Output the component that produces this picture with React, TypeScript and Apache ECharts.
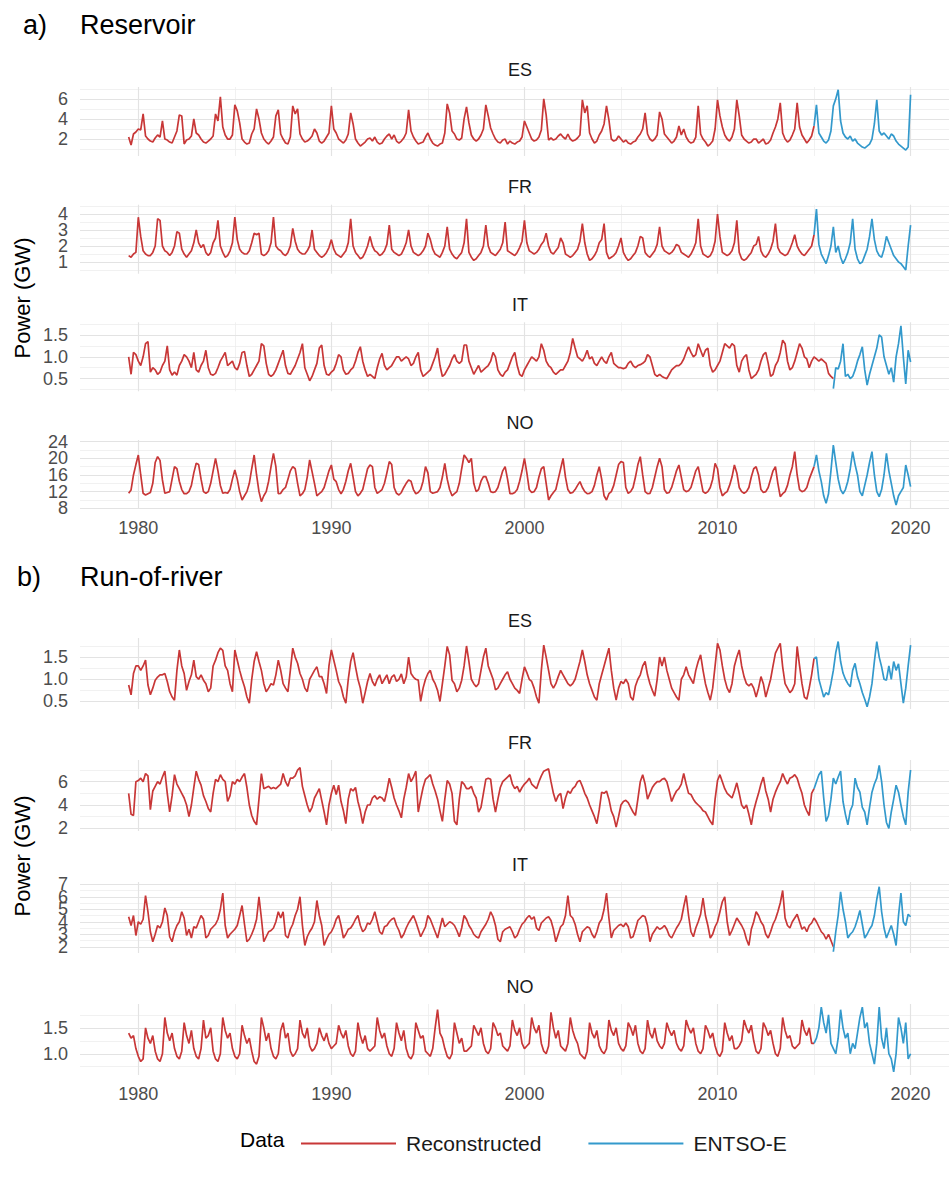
import React, { useEffect, useRef } from "react";
import * as echarts from "echarts";

// ---------- data (values every 1/8 year) ----------
const STEP = 0.125;
const REC_START = 1979.5;
const X_LABELS = [1980, 1990, 2000, 2010, 2020];
const X_MINOR = [1985, 1995, 2005, 2015];

// a) Reservoir — ES
const resES_rec = [
  2.2, 1.4, 2.5, 2.7,
  3.0, 2.9, 4.5, 2.3, 2.0, 1.8, 1.7, 2.1,
  2.4, 2.2, 3.8, 2.0, 1.9, 1.7, 1.6, 2.2,
  2.8, 4.4, 4.3, 1.5, 1.9, 2.0, 2.3, 4.0,
  2.6, 2.4, 2.0, 1.7, 1.6, 1.8, 2.0, 2.3,
  4.5, 3.8, 6.2, 3.2, 2.4, 2.0, 2.0, 2.4,
  5.4, 4.8, 3.6, 2.0, 1.7, 1.5, 1.6, 2.5,
  3.0, 5.0, 4.0, 2.6, 2.0, 1.7, 1.5, 1.8,
  2.2, 4.3, 4.9, 2.5, 2.0, 1.6, 1.5, 2.2,
  5.3, 4.5, 5.0, 2.5, 2.0, 1.7, 1.8, 2.0,
  2.3, 3.0, 2.6, 1.8, 1.6, 1.8, 2.2, 2.6,
  5.3, 3.0, 2.6, 2.0, 1.8, 1.6, 1.9, 2.5,
  4.6, 3.5, 2.0, 1.6, 1.3, 1.5, 1.7, 2.0,
  2.1, 1.8, 2.2, 1.7, 1.5, 1.6, 2.0, 2.3,
  2.5, 2.0, 2.4, 1.8, 1.6, 1.8, 2.1, 2.6,
  4.9, 2.8, 2.2, 1.8, 1.5, 1.6, 1.7, 2.2,
  2.6, 2.0, 1.6, 1.4, 1.3, 1.5, 1.6, 2.6,
  5.5, 4.6, 2.8, 2.5, 2.0, 1.9, 2.1, 4.0,
  5.2, 3.6, 2.4, 2.0, 1.8, 2.0, 2.4, 3.0,
  5.4, 4.3, 3.1, 2.5, 2.0, 1.7, 1.6, 1.9,
  2.0, 1.5, 1.8, 1.6, 1.5, 1.7, 1.8, 2.2,
  3.8, 3.2, 2.6, 2.0, 1.8, 1.9, 2.2, 2.9,
  6.0, 4.4, 1.9, 2.1, 1.9, 2.0, 2.3, 2.5,
  2.2, 2.0, 2.5, 2.0, 1.8, 1.9, 2.1, 2.4,
  5.9, 4.6, 5.3, 2.6, 2.0, 1.6, 1.8, 2.4,
  2.8, 3.5, 5.3, 3.9, 2.0, 1.8, 1.9, 2.3,
  2.0, 1.7, 1.9, 1.6, 1.5, 1.7, 1.8, 2.2,
  2.5, 3.0, 4.6, 2.5, 2.0, 1.8, 2.0, 2.4,
  4.7, 4.0, 2.5, 2.2, 1.9, 1.6, 1.8, 2.2,
  3.3, 2.4, 3.0, 2.2, 1.8, 1.6, 1.7, 2.2,
  5.3, 2.5, 2.0, 1.7, 1.3, 1.5, 1.8, 3.0,
  5.9, 4.3, 3.2, 2.4, 2.0, 1.8, 2.2, 3.0,
  5.9, 4.3, 2.4, 2.0, 1.8, 1.6, 1.7, 2.0,
  2.0, 1.6, 1.8, 2.0, 1.5, 1.6, 1.9, 2.6,
  3.2, 4.0, 5.6, 2.6, 2.0, 1.7, 1.9, 2.4,
  3.0, 5.6, 3.2, 2.4, 2.0, 1.6, 1.9, 2.3,
  3.3,
];
const resES_ent = [
  3.3, 5.4, 2.6, 2.2, 1.8, 1.6, 1.9, 2.8,
  5.3, 6.0, 6.9, 3.8, 2.6, 2.2, 2.0, 2.3,
  1.8, 2.0, 1.6, 1.4, 1.2, 1.1, 1.3, 1.5,
  2.0, 3.5, 5.9, 2.8, 2.4, 2.6, 2.3, 2.0,
  2.5, 2.3, 1.8, 1.5, 1.3, 1.1, 0.9, 1.2,
  6.4,
];

// a) Reservoir — FR
const resFR_rec = [
  1.4, 1.3, 1.5, 1.6,
  3.8, 2.6, 1.7, 1.5, 1.4, 1.4, 1.6, 2.0,
  3.7, 3.6, 2.0, 1.7, 1.6, 1.4, 1.6, 2.0,
  2.9, 2.8, 1.8, 1.5, 1.3, 1.5, 1.7, 2.2,
  3.0, 2.2, 1.9, 2.1, 1.6, 1.4, 1.6, 2.2,
  2.5, 3.6, 2.0, 1.6, 1.3, 1.4, 1.7, 2.2,
  3.8, 2.4, 1.8, 1.6, 1.5, 1.5, 1.7, 2.2,
  2.8, 2.7, 2.8, 1.5, 1.4, 1.5, 1.7, 2.2,
  3.8, 2.0, 1.8, 1.7, 1.5, 1.4, 1.6, 2.0,
  3.1, 2.3, 1.8, 1.6, 1.5, 1.5, 1.7, 2.0,
  3.0, 1.8, 1.6, 1.4, 1.3, 1.4, 1.6, 1.9,
  2.4, 1.8, 1.5, 1.4, 1.3, 1.5, 1.7, 2.2,
  3.7, 2.0, 1.6, 1.4, 1.2, 1.3, 1.6, 2.0,
  2.6, 2.0, 1.7, 1.6, 1.4, 1.5, 1.7, 2.1,
  3.3, 1.8, 1.6, 1.5, 1.4, 1.5, 1.8, 2.2,
  3.0, 2.0, 1.6, 1.5, 1.4, 1.5, 1.7, 2.0,
  2.8, 2.4, 1.8, 1.5, 1.4, 1.3, 1.6, 2.0,
  3.2, 1.8, 1.5, 1.3, 1.2, 1.4, 1.6, 2.2,
  3.7, 1.6, 1.3, 1.1, 1.2, 1.4, 1.6, 2.0,
  3.3, 2.0, 1.6, 1.5, 1.4, 1.6, 1.8, 2.2,
  3.5, 1.7, 1.6, 1.5, 1.4, 1.6, 1.9, 2.3,
  3.6, 2.2, 1.7, 1.6, 1.5, 1.6, 1.8, 2.1,
  2.3, 2.8, 2.0, 1.6, 1.5, 1.7, 1.9, 2.5,
  2.2, 1.5, 1.4, 1.3, 1.4, 1.6, 1.8, 2.3,
  3.4, 2.2, 1.5, 1.1, 1.2, 1.4, 1.7, 2.2,
  2.4, 3.4, 1.6, 1.2, 1.3, 1.4, 1.6, 2.0,
  2.5, 1.6, 1.3, 1.1, 1.2, 1.4, 1.6, 2.0,
  2.6, 2.5, 1.6, 1.4, 1.3, 1.5, 1.7, 2.1,
  3.2, 2.0, 1.7, 1.6, 1.5, 1.6, 1.8, 2.1,
  2.0, 1.6, 1.5, 1.4, 1.3, 1.5, 1.8, 2.2,
  3.7, 2.0, 1.5, 1.4, 1.3, 1.4, 1.7, 2.3,
  4.0, 2.6, 1.6, 1.5, 1.4, 1.5, 1.7, 2.2,
  3.6, 1.6, 1.2, 1.1, 1.2, 1.4, 1.6, 2.0,
  2.1, 2.6, 1.7, 1.4, 1.3, 1.5, 1.8, 2.3,
  3.4, 1.9, 1.6, 1.5, 1.4, 1.5, 1.8, 2.2,
  2.7, 2.0, 1.7, 1.5, 1.4, 1.6, 1.8, 2.0,
  2.7,
];
const resFR_ent = [
  2.7, 4.3, 2.1, 1.5, 1.2, 0.9, 1.4, 2.0,
  3.2, 1.6, 2.0, 1.3, 0.9, 1.2, 1.6, 2.2,
  3.7, 1.8, 1.2, 0.9, 1.0, 1.4, 1.8, 2.6,
  3.7, 2.4, 1.7, 1.4, 1.3, 1.8, 2.6, 2.2,
  1.8, 1.4, 1.2, 1.0, 0.9, 0.7, 0.5, 2.0,
  3.3,
];

// a) Reservoir — IT (reconstructed until 2016)
const resIT_rec = [
  1.0, 0.6, 1.1, 1.05,
  0.9, 0.8, 1.0, 1.3, 1.35, 0.65, 0.75, 0.7,
  0.6, 0.65, 0.8, 0.9, 1.25, 0.7, 0.58, 0.65,
  0.58, 0.8, 0.9, 1.05, 1.0, 0.9, 0.75, 1.1,
  0.7, 0.65, 0.8, 0.9, 1.15, 0.75, 0.6, 0.58,
  0.62, 0.75, 0.9, 1.0, 1.1, 0.8, 0.85, 0.9,
  0.75, 0.7, 0.85, 1.1, 1.12, 0.8, 0.55, 0.6,
  0.7, 0.8, 0.9, 1.3, 1.25, 0.85, 0.6, 0.55,
  0.6, 0.7, 0.85, 1.0, 1.15, 0.8, 0.62, 0.6,
  0.7, 0.8, 0.95, 1.1, 1.3, 0.75, 0.6, 0.45,
  0.55, 0.7, 0.85, 1.2, 1.27, 0.8, 0.6, 0.58,
  0.65, 0.7, 0.85, 1.05, 1.0, 0.7, 0.6, 0.62,
  0.7, 0.75, 0.9, 1.1, 1.23, 0.9, 0.7, 0.55,
  0.6, 0.55, 0.5, 0.75, 0.95, 1.08, 0.8, 0.7,
  0.75, 0.8, 0.9, 1.0, 1.0, 0.9, 0.95, 1.0,
  0.95, 0.8, 0.85, 1.0, 1.1, 0.7, 0.55, 0.6,
  0.65, 0.7, 0.85, 1.0, 1.2, 0.8, 0.55, 0.6,
  0.7, 0.8, 0.95, 1.05, 0.9, 0.85, 0.9, 1.27,
  1.27, 0.9, 0.75, 0.6, 0.7, 0.8, 0.65, 0.7,
  0.75, 0.8, 0.9, 1.1, 1.0, 0.7, 0.6, 0.55,
  0.65, 0.7, 0.85, 1.0, 1.1, 0.8, 0.6, 0.55,
  0.7, 0.8, 0.9, 1.0, 0.95, 0.9, 1.0, 1.3,
  1.15, 0.9, 0.8, 0.75, 0.65, 0.6, 0.65, 0.7,
  0.7, 0.8, 0.9, 1.1, 1.42, 1.2, 1.0, 0.95,
  0.9, 1.0, 1.15, 0.95, 1.0, 0.85, 0.8, 0.9,
  1.0, 0.9, 0.85, 1.0, 1.1, 0.85, 0.8, 0.75,
  0.75, 0.73, 0.75, 0.85, 0.9, 0.8, 0.75, 0.8,
  0.82, 0.85, 0.9, 1.05, 1.0, 0.8, 0.6, 0.55,
  0.6, 0.55, 0.52, 0.5, 0.6, 0.7, 0.75, 0.8,
  0.8, 0.85, 0.95, 1.1, 1.23, 1.1, 1.0, 1.05,
  1.3, 1.15, 1.0, 1.15, 1.2, 0.8, 0.65, 0.7,
  0.8, 0.9, 1.1, 1.3, 1.25, 1.2, 1.3, 1.25,
  0.8, 0.65, 0.9, 1.0, 1.05, 0.7, 0.5, 0.55,
  0.6, 0.7, 0.9, 1.05, 1.1, 0.85, 0.55, 0.6,
  0.8, 0.9, 1.1, 1.38, 1.3, 0.9, 0.7, 0.75,
  0.9, 1.1, 1.3, 1.2, 1.0, 0.95, 0.75, 0.9,
  1.0, 0.95, 0.9, 0.95, 0.9, 0.85, 0.62, 0.55,
  0.5,
];
const resIT_ent = [
  0.27, 0.75, 0.72, 0.9, 1.3, 0.55, 0.6, 0.5,
  0.55, 0.7, 0.9, 1.05, 1.23, 0.7, 0.35, 0.6,
  0.8, 1.0, 1.2, 1.5, 1.45, 1.0, 0.8, 0.6,
  0.75, 0.42, 1.0, 1.3, 1.71, 1.0, 0.38, 1.15,
  0.88,
];

// a) Reservoir — NO
const resNO_rec = [
  11.6, 12.4, 16.0, 18.5,
  20.8, 16.0, 11.6, 11.2, 11.5, 11.8, 14.0, 19.0,
  20.4, 19.5, 14.8, 11.6, 11.8, 12.0, 15.0, 18.0,
  17.5, 14.5, 12.5, 11.5, 11.5, 12.0, 13.5, 16.5,
  18.8, 18.5, 15.0, 12.0, 11.6, 12.0, 14.0, 17.0,
  20.0, 17.0, 13.5, 11.6, 11.8, 11.6, 12.5, 15.0,
  17.2, 15.0, 12.0, 10.0, 11.0, 12.0, 14.0, 17.5,
  20.8, 16.0, 12.0, 9.6, 11.0, 12.0, 14.5, 18.0,
  21.2, 18.0, 11.5, 11.6, 12.5, 13.0, 15.0, 17.0,
  18.0, 17.5, 14.0, 11.0, 11.5, 12.5, 15.5, 19.6,
  16.8, 14.0, 11.0, 11.5, 12.0, 13.0, 15.0, 17.0,
  18.4, 15.0, 14.4, 12.5, 11.5, 12.5, 14.5, 17.0,
  18.8, 15.5, 12.0, 11.0, 11.6, 12.5, 15.0, 17.5,
  18.4, 18.0, 13.0, 11.6, 12.0, 12.5, 14.0, 16.5,
  19.2, 18.5, 13.0, 11.6, 11.2, 11.8, 13.0, 14.0,
  14.8, 14.5, 12.5, 11.5, 11.8, 12.5, 14.5, 18.0,
  16.5, 12.0, 11.6, 11.8, 12.0, 13.0, 15.5, 18.8,
  15.0, 12.5, 11.0, 11.5, 12.0, 14.0, 17.5, 20.8,
  20.0, 19.0, 20.0, 14.0, 12.0, 12.5, 14.5, 15.6,
  15.6, 14.0, 12.0, 11.8, 12.0, 13.0, 15.0, 17.0,
  18.0, 15.0, 11.5, 11.5, 11.8, 12.5, 14.5, 17.0,
  20.0, 16.5, 12.5, 11.8, 12.0, 13.0, 15.5, 17.5,
  18.0, 14.0, 10.0, 11.0, 11.8, 12.5, 15.0, 17.5,
  20.0, 15.5, 12.5, 11.6, 11.8, 12.5, 13.5, 14.4,
  13.0, 12.0, 11.5, 11.6, 12.0, 13.5, 16.0, 18.0,
  15.0, 11.0, 10.0, 11.5, 12.0, 13.5, 16.0, 18.5,
  19.2, 19.0, 13.0, 11.6, 12.0, 13.0, 15.5, 18.5,
  20.4, 16.0, 12.0, 11.5, 11.6, 13.0, 15.5, 18.0,
  20.0, 18.0, 12.5, 11.6, 11.8, 13.0, 15.0, 17.0,
  18.4, 15.5, 12.5, 12.0, 12.2, 13.0, 15.0, 17.0,
  18.0, 15.0, 12.0, 11.6, 12.0, 13.0, 15.0, 18.8,
  17.5, 13.0, 11.0, 11.6, 12.0, 13.5, 15.5, 18.4,
  16.5, 13.0, 12.0, 11.6, 12.0, 13.0, 15.5, 17.5,
  18.0, 16.0, 12.5, 11.8, 12.0, 13.0, 15.0, 17.0,
  18.0, 14.0, 10.8, 11.5, 12.0, 13.5, 16.0, 18.0,
  21.6, 16.0, 12.5, 12.0, 12.2, 13.0, 15.0, 16.5,
  18.0,
];
const resNO_ent = [
  18.0, 20.8, 17.0, 14.4, 11.0, 9.2, 11.5, 17.0,
  23.2, 19.0, 15.0, 12.5, 11.5, 12.5, 14.5, 17.5,
  21.6, 18.5, 16.0, 12.0, 11.0, 13.5, 16.0, 19.0,
  21.6, 16.0, 12.0, 10.8, 12.5, 16.0, 21.2, 17.0,
  14.0, 11.0, 8.8, 11.0, 12.0, 13.0, 18.4, 16.0,
  13.2,
];

// b) Run-of-river — ES
const rorES_rec = [
  0.87, 0.65, 1.13, 1.3,
  1.3, 1.2, 1.3, 1.43, 0.87, 0.65, 0.8, 0.98,
  1.05, 1.1, 1.1, 1.13, 0.95, 0.72, 0.6, 0.53,
  1.2, 1.66, 1.3, 1.13, 0.75, 0.95, 1.1, 1.43,
  1.06, 1.0, 1.1, 0.98, 0.9, 0.72, 0.8, 1.3,
  1.43, 1.6, 1.7, 1.65, 1.3, 1.2, 0.9, 0.72,
  1.66, 1.43, 1.2, 1.0, 0.83, 0.6, 0.46, 1.0,
  1.4, 1.62, 1.4, 1.2, 0.9, 0.72, 0.8, 0.9,
  0.87, 1.1, 1.43, 1.2, 0.9, 0.8, 0.72, 1.2,
  1.7, 1.5, 1.36, 1.13, 1.0, 0.8, 0.72, 1.0,
  1.1, 1.2, 1.28, 1.06, 1.06, 0.9, 0.68, 1.3,
  1.66, 1.43, 1.2, 0.95, 0.83, 0.6, 0.46, 1.0,
  1.4, 1.6, 1.28, 1.0, 0.8, 0.46, 0.7, 0.95,
  1.13, 0.95, 0.85, 1.0, 1.1, 0.9, 1.0, 1.1,
  0.9, 1.05, 1.1, 0.95, 1.0, 1.12, 0.9, 1.05,
  1.5, 1.13, 1.05, 1.0, 0.98, 0.5, 0.8, 1.0,
  1.13, 1.2, 1.0, 0.9, 0.75, 0.5, 0.9, 1.3,
  1.74, 1.55, 0.98, 0.9, 0.72, 0.8, 0.98, 1.3,
  1.75, 1.4, 1.0, 0.9, 0.83, 0.9, 1.2, 1.5,
  1.7, 1.3, 1.15, 1.0, 0.76, 0.8, 0.9, 1.0,
  1.1, 1.17, 1.0, 0.9, 0.8, 0.75, 0.68, 1.0,
  1.28, 1.15, 1.0, 0.95, 0.8, 0.6, 0.46, 1.2,
  1.77, 1.5, 1.2, 0.9, 0.8, 0.9, 1.06, 1.2,
  1.1, 1.0, 0.9, 0.85, 0.9, 1.0, 1.2, 1.4,
  1.66, 1.4, 1.1, 0.9, 0.75, 0.6, 0.53, 0.9,
  1.1, 1.3, 1.5, 1.7, 1.2, 0.8, 0.53, 0.8,
  0.95, 0.9, 1.0, 0.9, 0.6, 0.53, 0.85, 1.0,
  1.1, 1.3, 1.4, 1.1, 0.9, 0.75, 0.62, 1.0,
  1.5, 1.3, 1.5, 1.2, 1.0, 0.8, 0.7, 0.6,
  0.53, 1.0, 1.1, 1.28, 1.1, 1.0, 0.9, 1.2,
  1.4, 1.55, 1.2, 0.9, 0.7, 0.53, 0.8, 1.3,
  1.81, 1.66, 1.3, 1.0, 0.8, 0.7, 0.9, 1.3,
  1.5, 1.66, 1.3, 1.06, 0.9, 0.85, 0.9, 0.8,
  0.6, 0.8, 1.06, 0.9, 0.6, 0.8, 1.0, 1.3,
  1.59, 1.7, 1.81, 1.28, 0.9, 0.8, 0.7, 0.76,
  0.9, 1.74, 1.3, 0.9, 0.6, 0.55, 0.8, 1.1,
  1.47,
];
const rorES_ent = [
  1.47, 1.5, 1.0, 0.8, 0.6, 0.7, 0.65, 0.9,
  1.2, 1.6, 1.85, 1.4, 1.14, 1.0, 0.9, 0.83,
  1.2, 1.36, 1.06, 0.9, 0.7, 0.55, 0.38, 0.6,
  0.9, 1.4, 1.85, 1.5, 1.28, 1.0, 0.98, 1.3,
  1.0, 1.4, 1.2, 1.35, 0.9, 0.46, 0.8, 1.3,
  1.77,
];

// b) Run-of-river — FR
const rorFR_rec = [
  5.0, 3.2, 3.1, 6.0,
  6.1, 6.3, 6.0, 6.7, 6.5, 3.6, 5.2, 5.6,
  6.0, 5.8, 6.4, 6.9, 5.0, 3.4, 4.8, 6.6,
  5.8, 5.4, 5.0, 4.6, 4.0, 3.0, 4.0, 5.5,
  6.9, 6.2, 5.7, 4.8, 4.3, 3.7, 3.4, 5.0,
  6.2, 6.0, 6.6, 6.2, 6.0, 4.3, 4.8, 6.0,
  5.8, 6.2, 6.0, 6.4, 6.7, 5.5, 4.0, 3.1,
  2.6, 2.3, 4.5, 6.7, 5.4, 5.5, 5.6, 5.4,
  5.5, 5.4, 5.6, 5.8, 6.7, 6.0, 5.6, 6.3,
  6.3, 6.5, 7.0, 7.2, 5.6, 4.8, 4.0, 3.4,
  3.8, 4.6, 5.0, 5.4, 4.4, 3.4, 2.3, 4.0,
  5.0, 5.7, 4.9, 5.7, 4.3, 3.5, 2.4, 4.5,
  5.4, 5.2, 5.5, 4.3, 3.5, 2.4, 3.4, 4.0,
  4.0, 4.6, 4.8, 4.5, 4.7, 4.6, 4.3, 5.2,
  6.3, 5.5, 4.6, 4.0, 3.5, 2.9, 4.5, 5.5,
  6.7, 6.0, 6.4, 6.9, 3.4, 4.5, 5.5, 6.2,
  6.4, 6.6, 5.8, 5.2, 4.5, 3.5, 2.6, 4.5,
  6.1, 5.8, 5.0, 2.6, 2.3, 4.5, 6.0, 5.8,
  5.4, 5.4, 5.6, 5.0, 4.6, 3.4, 3.8, 5.0,
  6.2, 6.3, 6.2, 4.5, 3.4, 4.5, 5.5, 6.0,
  6.2, 6.4, 6.6, 5.8, 5.4, 5.6, 5.1, 5.5,
  5.8, 6.0, 6.3, 5.8, 5.6, 5.4, 6.0, 6.5,
  6.9, 7.0, 7.1, 6.0, 5.0, 4.3, 4.8, 5.0,
  3.7, 4.6, 5.2, 5.0, 5.4, 5.6, 6.0, 6.1,
  5.6, 5.0, 4.6, 4.0, 3.5, 3.0, 2.4, 3.6,
  5.1, 5.0, 5.2, 4.5, 3.5, 3.0, 2.1, 3.0,
  4.0, 4.3, 4.4, 4.2, 3.8, 3.4, 3.1, 4.5,
  6.0, 6.6, 5.8, 4.5, 5.0, 5.5, 5.8, 6.0,
  6.0, 6.2, 6.3, 6.0, 5.2, 4.3, 4.8, 5.2,
  5.4, 5.8, 6.7, 5.8, 5.0, 4.9, 4.5, 4.2,
  4.0, 3.8, 3.5, 3.4, 3.0, 2.6, 2.3, 4.5,
  6.1, 6.6, 6.0, 5.4, 5.0, 4.8, 4.6, 5.2,
  5.9, 5.0, 4.0, 3.7, 4.0, 3.2, 2.3, 3.5,
  4.3, 5.0, 5.8, 6.4, 5.2, 4.5, 3.4, 4.5,
  5.1, 5.6, 6.0, 6.7, 6.2, 5.8, 6.3, 6.4,
  6.6, 6.3, 5.6, 5.0, 4.0, 3.5, 3.1, 5.0,
  5.4,
];
const rorFR_ent = [
  5.4, 6.0, 6.6, 6.9, 4.6, 2.6, 3.1, 4.5,
  6.3, 5.8, 6.4, 6.9, 4.3, 3.2, 2.3, 3.5,
  4.0, 6.3, 5.5, 5.1, 3.8, 3.4, 2.3, 3.8,
  5.1, 5.8, 6.3, 7.4, 6.0, 4.0, 2.5, 2.0,
  3.4, 4.5, 5.7, 5.1, 4.0, 3.0, 2.3, 5.1,
  7.0,
];

// b) Run-of-river — IT (reconstructed until 2016)
const rorIT_rec = [
  4.4, 3.7, 4.5, 2.9,
  4.0, 3.8, 4.2, 6.1, 4.8, 3.2, 2.4, 3.0,
  3.7, 3.5, 4.0, 5.1, 4.5, 2.8, 2.4, 3.2,
  3.7, 4.0, 4.8, 4.3, 2.9, 3.4, 2.7, 3.6,
  3.5, 4.0, 4.5, 4.2, 2.7, 2.9, 3.4, 3.6,
  3.8, 4.2, 5.0, 6.3, 3.7, 2.7, 3.0, 3.2,
  3.4, 3.7, 4.5, 5.3, 3.8, 2.4, 2.6, 3.0,
  3.5, 4.2, 6.0, 4.3, 2.4, 2.8, 3.2, 3.3,
  3.5, 4.0, 4.8, 4.3, 4.8, 2.9, 2.7, 3.4,
  3.8, 4.5, 5.0, 6.0, 3.7, 2.1, 2.8, 3.2,
  3.5, 4.0, 5.7, 4.5, 3.7, 2.1, 2.6, 3.0,
  3.2, 3.6, 4.2, 4.5, 3.7, 2.7, 3.0, 3.4,
  3.5, 3.8, 4.2, 4.5, 3.7, 3.2, 3.4, 3.9,
  3.8, 4.2, 4.8, 4.0, 3.2, 3.0, 3.6, 3.7,
  4.0, 4.2, 4.3, 3.7, 3.3, 2.7, 3.0, 3.5,
  3.9, 4.2, 4.5, 4.0, 3.4, 2.8, 3.2, 3.6,
  4.5, 4.2, 3.7, 3.2, 2.7, 3.5, 4.3, 3.6,
  3.8, 4.0, 3.9, 3.7, 3.3, 2.8, 3.5, 4.5,
  4.2, 3.7, 3.4, 3.0, 2.8, 2.7, 3.2, 3.5,
  3.8, 4.2, 4.8, 4.4, 3.7, 2.6, 2.4, 3.2,
  3.4, 3.5, 3.6, 3.2, 2.7, 2.9, 3.4, 3.8,
  4.0, 4.3, 4.5, 4.2, 4.4, 3.5, 3.3, 3.9,
  4.1, 4.3, 4.4, 4.1, 3.4, 2.4, 3.0, 3.6,
  3.8, 4.5, 6.1, 4.5, 4.3, 3.8, 3.0, 2.4,
  3.2, 3.4, 3.6, 3.5, 3.0, 2.7, 3.2, 3.9,
  4.2, 5.0, 6.3, 4.3, 2.7, 3.3, 3.5, 3.7,
  3.8, 3.6, 3.9, 3.6, 2.7, 2.8, 3.4, 4.1,
  4.3, 4.5, 4.4, 3.7, 2.4, 3.0, 3.3, 3.6,
  3.4, 3.5, 3.7, 3.4, 2.9, 2.7, 3.1, 3.5,
  3.8, 4.2, 5.2, 6.1, 4.5, 3.2, 2.8, 3.5,
  4.0, 4.6, 5.9, 4.5, 3.7, 2.7, 3.0, 3.6,
  4.0, 4.8, 5.6, 6.0, 4.0, 2.9, 3.3, 3.8,
  4.3, 4.0, 3.7, 3.3, 2.6, 2.1, 3.4, 4.0,
  4.8, 4.5, 4.0, 3.7, 3.0, 2.7, 3.2, 3.8,
  4.2, 4.8, 5.5, 6.5, 4.3, 3.7, 3.5, 4.0,
  4.3, 4.6, 4.0, 3.4, 3.6, 3.2, 3.7, 3.9,
  4.3, 4.0, 3.6, 3.2, 3.0, 2.6, 3.0, 2.5,
  2.0,
];
const rorIT_ent = [
  1.6, 3.2, 4.5, 6.4, 5.0, 4.0, 2.7, 3.0,
  3.2, 3.6, 4.2, 4.9, 3.8, 2.7, 3.0, 3.4,
  3.7, 4.5, 5.8, 6.8, 4.8, 3.5, 2.7, 3.2,
  3.7, 3.0, 2.1, 4.5, 6.3, 4.0, 3.7, 4.6,
  4.4,
];

// b) Run-of-river — NO
const rorNO_rec = [
  1.4, 1.3, 1.35, 1.1,
  0.95, 0.85, 0.9, 1.5, 1.3, 1.2, 1.35, 1.05,
  0.9, 0.85, 1.0, 1.7, 1.4, 1.25, 1.4, 1.1,
  0.95, 0.9, 1.05, 1.6, 1.35, 1.2, 1.45, 1.1,
  0.95, 0.9, 1.1, 1.65, 1.3, 1.35, 1.5, 1.05,
  0.9, 0.85, 1.0, 1.7, 1.45, 1.3, 1.4, 1.1,
  0.95, 0.9, 1.0, 1.55, 1.35, 1.2, 1.3, 1.05,
  0.85, 0.8, 0.95, 1.7, 1.5, 1.25, 1.4, 1.1,
  0.95, 0.9, 1.0, 1.45, 1.6, 1.3, 1.4, 1.05,
  0.95, 1.0, 1.1, 1.65, 1.4, 1.3, 1.5, 1.15,
  1.05, 1.1, 1.2, 1.5, 1.35, 1.25, 1.4, 1.2,
  1.1, 1.15, 1.2, 1.55, 1.4, 1.3, 1.45, 1.15,
  1.0, 0.95, 1.05, 1.6, 1.35, 1.2, 1.35, 1.1,
  1.05, 1.1, 1.15, 1.7, 1.45, 1.3, 1.4, 1.15,
  1.0, 0.95, 1.1, 1.6, 1.4, 1.25, 1.45, 1.1,
  0.95, 0.9, 1.0, 1.6, 1.45, 1.3, 1.35, 1.05,
  1.0, 0.95, 1.1, 1.5, 1.85, 1.4, 1.3, 1.1,
  0.95, 0.9, 1.0, 1.6, 1.4, 1.2, 1.3, 1.05,
  1.05, 1.1, 1.15, 1.55, 1.45, 1.35, 1.5, 1.2,
  1.05, 1.0, 1.1, 1.6, 1.5, 1.35, 1.4, 1.15,
  1.1, 1.05, 1.15, 1.65, 1.45, 1.35, 1.5, 1.2,
  1.1, 1.15, 1.2, 1.7, 1.5, 1.4, 1.55, 1.2,
  1.05, 1.0, 1.15, 1.8, 1.5, 1.3, 1.45, 1.15,
  1.1, 1.05, 1.2, 1.7, 1.45, 1.3, 1.2, 1.0,
  0.95, 0.9, 1.05, 1.6, 1.4, 1.3, 1.45, 1.15,
  1.05, 1.0, 1.1, 1.65, 1.45, 1.35, 1.5, 1.2,
  1.1, 1.05, 1.15, 1.6, 1.5, 1.35, 1.55, 1.2,
  1.05, 1.0, 1.1, 1.65, 1.4, 1.3, 1.5, 1.25,
  1.15, 1.1, 1.2, 1.6, 1.45, 1.35, 1.45, 1.2,
  1.1, 1.05, 1.15, 1.65, 1.5, 1.4, 1.5, 1.2,
  1.05, 1.0, 1.1, 1.55, 1.45, 1.3, 1.4, 1.15,
  1.0, 0.95, 1.05, 1.6, 1.4, 1.25, 1.35, 1.1,
  1.1, 1.15, 1.25, 1.65, 1.5, 1.4, 1.55, 1.25,
  1.05, 1.0, 1.1, 1.6, 1.5, 1.35, 1.45, 1.2,
  1.0, 0.95, 1.1, 1.7, 1.45, 1.3, 1.35, 1.15,
  1.1, 1.15, 1.2, 1.65, 1.45, 1.35, 1.5, 1.2,
  1.2,
];
const rorNO_ent = [
  1.2, 1.3, 1.5, 1.9, 1.6, 1.4, 1.75, 1.2,
  1.1, 1.0, 1.3, 1.85, 1.5, 1.3, 1.4, 1.0,
  1.2, 1.1, 1.4, 1.7, 1.9, 1.5, 1.6, 1.2,
  1.0, 0.8, 1.2, 1.9, 1.3, 1.1, 1.5, 1.0,
  0.9, 0.65, 1.0, 1.7, 1.5, 1.2, 1.6, 0.9,
  1.0,
];

// ---------- layout / style ----------
const FONT = "'Liberation Sans', Arial, sans-serif";
const RED = "#c83737";
const BLUE = "#3399cc";
const X_MIN = 1976.98;
const X_MAX = 2021.99;
const GRID_LEFT = 80;
const GRID_RIGHT = -11;
const LINE_W = 1.7;

type Panel = {
  strip: string;
  rec: number[];
  ent: number[];
  entStart: number;
  top: number;
  h: number;
  min: number;
  max: number;
  major: number[];
  minor: number[];
  dec: number;
  xLabels: boolean;
};

const panels: Panel[] = [
  { strip: "ES", rec: resES_rec, ent: resES_ent, entStart: 2015, top: 87, h: 69, min: 0.31, max: 7.18, major: [2, 4, 6], minor: [1, 3, 5, 7], dec: 0, xLabels: false },
  { strip: "FR", rec: resFR_rec, ent: resFR_ent, entStart: 2015, top: 204.7, h: 69, min: 0.27, max: 4.58, major: [1, 2, 3, 4], minor: [0.5, 1.5, 2.5, 3.5, 4.5], dec: 0, xLabels: false },
  { strip: "IT", rec: resIT_rec, ent: resIT_ent, entStart: 2016, top: 322.3, h: 69, min: 0.21, max: 1.79, major: [0.5, 1, 1.5], minor: [0.25, 0.75, 1.25, 1.75], dec: 1, xLabels: false },
  { strip: "NO", rec: resNO_rec, ent: resNO_ent, entStart: 2015, top: 440, h: 69, min: 7.83, max: 24.4, major: [8, 12, 16, 20, 24], minor: [10, 14, 18, 22], dec: 0, xLabels: true },
  { strip: "ES", rec: rorES_rec, ent: rorES_ent, entStart: 2015, top: 638, h: 71, min: 0.33, max: 1.93, major: [0.5, 1, 1.5], minor: [0.75, 1.25, 1.75], dec: 1, xLabels: false },
  { strip: "FR", rec: rorFR_rec, ent: rorFR_ent, entStart: 2015, top: 760, h: 71, min: 1.77, max: 7.86, major: [2, 4, 6], minor: [3, 5, 7], dec: 0, xLabels: false },
  { strip: "IT", rec: rorIT_rec, ent: rorIT_ent, entStart: 2016, top: 882, h: 71, min: 1.5, max: 7.18, major: [2, 3, 4, 5, 6, 7], minor: [2.5, 3.5, 4.5, 5.5, 6.5], dec: 0, xLabels: false },
  { strip: "NO", rec: rorNO_rec, ent: rorNO_ent, entStart: 2015, top: 1004, h: 71, min: 0.59, max: 1.96, major: [1, 1.5], minor: [0.75, 1.25, 1.75], dec: 1, xLabels: true },
];

const toPairs = (start: number, vals: number[]) =>
  vals.map((v, i) => [Math.round((start + i * STEP) * 1000) / 1000, v]);

const MAJOR_LINE = { color: "#e3e3e3", width: 1.2, type: "solid" as const };
const MINOR_LINE = { color: "#eeeeee", width: 0.8, type: "solid" as const };
const TICK_TEXT = { fontSize: 18, color: "#4d4d4d", fontFamily: FONT };

function buildOption() {
  const grid = panels.map((p) => ({ left: GRID_LEFT, right: GRID_RIGHT, top: p.top, height: p.h }));

  const xAxis = panels.map((p, i) => ({
    type: "value",
    gridIndex: i,
    min: X_MIN,
    max: X_MAX,
    axisLine: { show: false },
    axisTick: { show: false },
    splitLine: { show: false },
    axisLabel: {
      show: p.xLabels,
      customValues: X_LABELS,
      showMinLabel: true,
      showMaxLabel: true,
      formatter: (v: number) => String(Math.round(v)),
      ...TICK_TEXT,
      margin: 10,
    },
  }));

  // y tick labels are drawn as labels of the major grid lines (so none are auto-hidden)
  const yAxis = panels.map((p, i) => ({
    type: "value",
    gridIndex: i,
    min: p.min,
    max: p.max,
    axisLine: { show: false },
    axisTick: { show: false },
    splitLine: { show: false },
    axisLabel: { show: false },
  }));

  const series: any[] = [];
  panels.forEach((p, i) => {
    const gridLines = [
      ...p.minor.map((v) => ({ yAxis: v, lineStyle: MINOR_LINE })),
      ...X_MINOR.map((v) => ({ xAxis: v, lineStyle: MINOR_LINE })),
      ...X_LABELS.map((v) => ({ xAxis: v, lineStyle: MAJOR_LINE })),
      ...p.major.map((v) => ({
        yAxis: v,
        lineStyle: MAJOR_LINE,
        label: {
          show: true,
          position: "start",
          distance: 12,
          formatter: v.toFixed(p.dec),
          ...TICK_TEXT,
        },
      })),
    ];
    series.push({
      type: "line",
      name: "Reconstructed",
      xAxisIndex: i,
      yAxisIndex: i,
      data: toPairs(REC_START, p.rec),
      symbol: "none",
      showSymbol: false,
      silent: true,
      z: 3,
      lineStyle: { color: RED, width: LINE_W },
      itemStyle: { color: RED },
      markLine: {
        silent: true,
        symbol: ["none", "none"],
        label: { show: false },
        emphasis: { disabled: true },
        animation: false,
        z: 1,
        data: gridLines,
      },
    });
    series.push({
      type: "line",
      name: "ENTSO-E",
      xAxisIndex: i,
      yAxisIndex: i,
      data: toPairs(p.entStart, p.ent),
      symbol: "none",
      showSymbol: false,
      silent: true,
      z: 4,
      lineStyle: { color: BLUE, width: LINE_W },
      itemStyle: { color: BLUE },
    });
  });

  const txt = (text: string, x: number, y: number, size: number, fill: string, align = "left", extra: any = {}) => ({
    type: "text",
    x,
    y,
    silent: true,
    ...extra,
    style: {
      text,
      fontSize: size,
      fontFamily: FONT,
      fill,
      align,
      textAlign: align,
      verticalAlign: "middle",
      textVerticalAlign: "middle",
    },
  });

  const graphic: any[] = [
    txt("a)", 23, 25, 27, "#000000"),
    txt("Reservoir", 80, 25, 27, "#000000"),
    txt("b)", 17, 577, 27, "#000000"),
    txt("Run-of-river", 80, 577, 27, "#000000"),
    txt("Power (GW)", 22, 298, 22, "#000000", "center", { rotation: Math.PI / 2 }),
    txt("Power (GW)", 22, 856, 22, "#000000", "center", { rotation: Math.PI / 2 }),
    txt("Data", 240, 1139, 21, "#000000"),
    ...panels.map((p) => txt(p.strip, 520, p.top - 17.5, 18, "#1a1a1a", "center")),
  ];

  return {
    animation: false,
    backgroundColor: "#ffffff",
    textStyle: { fontFamily: FONT },
    grid,
    xAxis,
    yAxis,
    series,
    graphic,
    legend: {
      data: ["Reconstructed", "ENTSO-E"],
      left: 296,
      top: 1128,
      icon: "rect",
      itemWidth: 95,
      itemHeight: 2,
      itemGap: 47,
      selectedMode: false,
      textStyle: { fontSize: 21, color: "#1a1a1a", fontFamily: FONT, padding: [0, 0, 0, 5] },
    },
  };
}

export default function App() {
  const ref = useRef<HTMLDivElement>(null);
  useEffect(() => {
    if (!ref.current) return;
    const chart = echarts.init(ref.current, undefined, { renderer: "svg" });
    chart.setOption(buildOption() as any);
    return () => chart.dispose();
  }, []);
  return (
    <div
      ref={ref}
      style={{ position: "absolute", left: 0, top: 0, width: 949, height: 1178, background: "#fff" }}
    />
  );
}
